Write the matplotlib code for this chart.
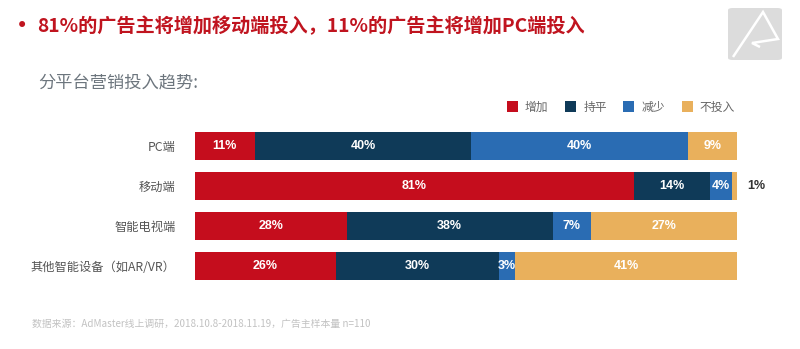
import numpy as np
import matplotlib
matplotlib.use("Agg")
import matplotlib.pyplot as plt
from matplotlib.patches import FancyBboxPatch, Polygon

plt.rcParams['font.family'] = ['Noto Sans CJK SC', 'DejaVu Sans']

# survey answers per platform, in percent
platforms = ["PC端", "移动端", "智能电视端", "其他智能设备（如AR/VR）"]
series_names = ["增加", "持平", "减少", "不投入"]
increase = [11, 81, 28, 26]
flat = [40, 14, 38, 30]
decrease = [40, 4, 7, 3]
no_spend = [9, 1, 27, 41]

colors = ["#c50d1d", "#0f3a58", "#2a6cb3", "#e9b05c"]

fig = plt.figure(figsize=(8.0, 3.49), dpi=100)
fig.patch.set_facecolor("white")

# bar area in figure pixels: x 195..737, rows centred at 146/186/226/266 from top
W, H = 800.0, 349.0
ax = fig.add_axes([195 / W, (H - 286) / H, (737 - 195) / W, 160 / H])

y = np.arange(len(platforms))
left = np.zeros(len(platforms))
bars = []
for name, vals, col in zip(series_names, [increase, flat, decrease, no_spend], colors):
    vals = np.array(vals, dtype=float)
    b = ax.barh(y, vals, left=left, height=0.72, color=col, label=name,
                edgecolor="none")
    bars.append(b)
    for yi, v, l in zip(y, vals, left):
        if v >= 3:
            ax.text(l + v / 2, yi, f"{int(v)}%", ha="center", va="center",
                    color="white", fontsize=9, fontweight="bold",
                    family=['Liberation Sans', 'DejaVu Sans'])
        else:
            # too thin for a label inside, put it past the bar end
            ax.text(l + v + 1.9, yi, f"{int(v)}%", ha="left", va="center",
                    color="#333333", fontsize=9, fontweight="bold",
                    family=['Liberation Sans', 'DejaVu Sans'])
    left += vals

ax.set_xlim(0, 100)
ax.set_ylim(len(platforms) - 0.5, -0.5)
ax.set_yticks(y)
ax.set_yticklabels(platforms, fontsize=8.8, color="#555555")
ax.tick_params(axis="y", length=0, pad=14)
ax.set_xticks([])
for s in ax.spines.values():
    s.set_visible(False)

ax.legend(handles=bars, ncol=4, frameon=False, loc="center right",
          bbox_to_anchor=(741 / W, 1 - 107 / H), bbox_transform=fig.transFigure,
          handlelength=0.95, handleheight=0.95, handletextpad=0.6,
          columnspacing=1.4, borderpad=0, fontsize=8.5, labelcolor="#666666")

# headline
fig.text(22 / W, 1 - 26 / H, "•", color="#c0141f", fontsize=15,
         ha="center", va="center", family=['DejaVu Sans'])
fig.text(37 / W, 1 - 26 / H, "81%的广告主将增加移动端投入，11%的广告主将增加PC端投入",
         color="#c0141f", fontsize=13.8, fontweight="bold", ha="left", va="center")
fig.text(38 / W, 1 - 83 / H, "分平台营销投入趋势:", color="#6c757d",
         fontsize=12.4, ha="left", va="center")

# source note
fig.text(32 / W, 1 - 324 / H,
         "数据来源：AdMaster线上调研，2018.10.8-2018.11.19，广告主样本量 n=110",
         color="#c2c2c2", fontsize=7.1, ha="left", va="center")

# corner logo
logo = FancyBboxPatch((728 / W, 1 - 60 / H), 54 / W, 52 / H,
                      boxstyle="round,pad=0,rounding_size=0.006",
                      transform=fig.transFigure, facecolor="#dcdcdc",
                      edgecolor="none")
fig.patches.append(logo)
mark = Polygon([(733 / W, 1 - 57 / H), (763 / W, 1 - 12 / H), (778 / W, 1 - 39 / H),
                (752 / W, 1 - 43 / H), (760 / W, 1 - 47 / H), (733 / W, 1 - 57 / H)],
               closed=False, fill=False, edgecolor="white", linewidth=1.8,
               joinstyle="miter", transform=fig.transFigure)
fig.patches.append(mark)

fig.savefig("out.png", dpi=100, facecolor="white")
